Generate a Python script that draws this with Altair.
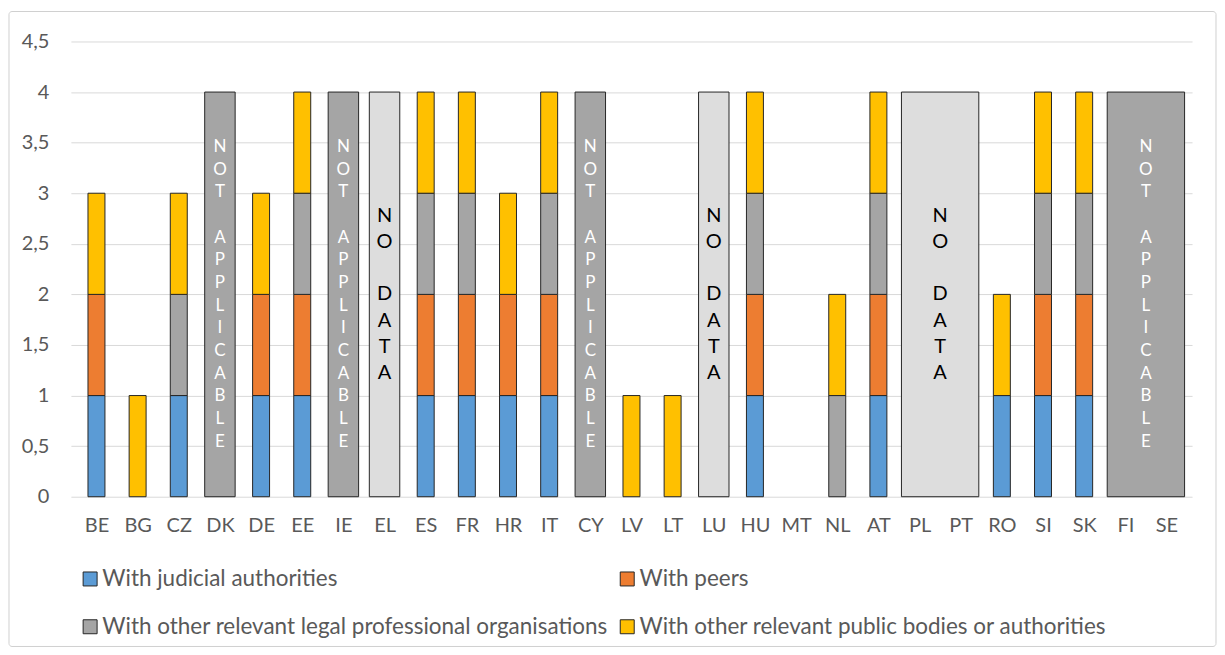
import json
import altair as alt
import pandas as pd

countries = ["BE", "BG", "CZ", "DK", "DE", "EE", "IE", "EL", "ES", "FR", "HR", "IT", "CY", "LV",
             "LT", "LU", "HU", "MT", "NL", "AT", "PL", "PT", "RO", "SI", "SK", "FI", "SE"]
judicial = [1, 0, 1, 0, 1, 1, 0, 0, 1, 1, 1, 1, 0, 0, 0, 0, 1, 0, 0, 1, 0, 0, 1, 1, 1, 0, 0]
peers = [1, 0, 0, 0, 1, 1, 0, 0, 1, 1, 1, 1, 0, 0, 0, 0, 1, 0, 0, 1, 0, 0, 0, 1, 1, 0, 0]
other_legal = [0, 0, 1, 0, 0, 1, 0, 0, 1, 1, 0, 1, 0, 0, 0, 0, 1, 0, 1, 1, 0, 0, 0, 1, 1, 0, 0]
public = [1, 1, 1, 0, 1, 1, 0, 0, 1, 1, 1, 1, 0, 1, 1, 0, 1, 0, 1, 1, 0, 0, 1, 1, 1, 0, 0]

series_names = ["With judicial authorities", "With peers",
                "With other relevant legal professional organisations",
                "With other relevant public bodies or authorities"]
series_colors = ["#5B9BD5", "#ED7D31", "#A5A5A5", "#FFC000"]

overlay_start = ["DK", "IE", "EL", "CY", "LU", "PL", "FI"]
overlay_end = ["DK", "IE", "EL", "CY", "LU", "PT", "SE"]
overlay_kind = ["NOT APPLICABLE", "NOT APPLICABLE", "NO DATA", "NOT APPLICABLE",
                "NO DATA", "NO DATA", "NOT APPLICABLE"]
overlay_value = [4, 4, 4, 4, 4, 4, 4]

y_ticks = [0, 0.5, 1, 1.5, 2, 2.5, 3, 3.5, 4, 4.5]

W, H = 1123, 456
Y_MAX = 4.5
FONT = "Lato"
GREY = "#595959"
LINE_PX = {"NOT APPLICABLE": 22.7, "NO DATA": 26.2}

# ---- tables ----
rows = []
for i, c in enumerate(countries):
    for k, vals in enumerate([judicial, peers, other_legal, public]):
        if vals[i] > 0:
            rows.append({"idx": i, "country": c, "series": series_names[k],
                         "order": k, "value": vals[i]})
bars_df = pd.DataFrame(rows)

orows, lrows = [], []
for s, e, kind, v in zip(overlay_start, overlay_end, overlay_kind, overlay_value):
    a, b = countries.index(s), countries.index(e)
    pad = 0.37 if a == b else 0.44
    orows.append({"x0": a - pad, "x1": b + pad, "top": v, "kind": kind})
    # one row per letter, words separated by an empty line, block centred at v/2
    lines = []
    for wi, word in enumerate(kind.split(" ")):
        if wi:
            lines.append(None)
        lines.extend(list(word))
    n = len(lines)
    step = LINE_PX[kind] * Y_MAX / H
    for li, ch in enumerate(lines):
        if ch is None:
            continue
        lrows.append({"mid": (a + b) / 2, "ly": v / 2 + ((n - 1) / 2 - li) * step,
                      "kind": kind, "ch": ch})
over_df = pd.DataFrame(orows)
letters_df = pd.DataFrame(lrows)

xscale = alt.Scale(domain=[-0.5, len(countries) - 0.5], nice=False, zero=False)
yscale = alt.Scale(domain=[0, Y_MAX], nice=False)

x_axis = alt.Axis(values=list(range(len(countries))), grid=False, domain=False, ticks=False,
                  labelExpr=json.dumps(countries) + "[datum.value]", title=None,
                  labelFontSize=20, labelColor=GREY, labelFont=FONT, labelPadding=19)
y_axis = alt.Axis(values=y_ticks, grid=True, gridColor="#D9D9D9", domain=False, ticks=False,
                  labelExpr="replace(format(datum.value, '~g'), '.', ',')", title=None,
                  labelFontSize=20, labelColor=GREY, labelFont=FONT, labelPadding=22)

bars = alt.Chart(bars_df).mark_bar(width=17, stroke="#262626", strokeWidth=1).encode(
    x=alt.X("idx:Q", scale=xscale, axis=x_axis),
    y=alt.Y("sum(value):Q", scale=yscale, axis=y_axis, stack="zero"),
    color=alt.Color("series:N", scale=alt.Scale(domain=series_names, range=series_colors),
                    legend=alt.Legend(title=None, orient="none", legendX=8, legendY=527,
                                      columns=2, direction="horizontal",
                                      symbolType="square", symbolSize=196,
                                      symbolStrokeColor="#262626", symbolStrokeWidth=1,
                                      labelFont=FONT, labelFontSize=22.5, labelColor=GREY,
                                      labelOffset=1, columnPadding=8, rowPadding=25,
                                      labelLimit=1000, padding=0)),
    order=alt.Order("order:Q"),
)

base_o = alt.Chart(over_df)
na_rect = base_o.transform_filter("datum.kind == 'NOT APPLICABLE'").mark_rect(
    fill="#A5A5A5", stroke="#262626", strokeWidth=1).encode(
    x=alt.X("x0:Q", scale=xscale), x2="x1:Q",
    y=alt.Y("top:Q", scale=yscale), y2=alt.datum(0))
nd_rect = base_o.transform_filter("datum.kind == 'NO DATA'").mark_rect(
    fill="#DDDDDD", stroke="#262626", strokeWidth=1).encode(
    x=alt.X("x0:Q", scale=xscale), x2="x1:Q",
    y=alt.Y("top:Q", scale=yscale), y2=alt.datum(0))

base_l = alt.Chart(letters_df)
na_text = base_l.transform_filter("datum.kind == 'NOT APPLICABLE'").mark_text(
    font=FONT, fontSize=17, color="white", align="center", baseline="middle").encode(
    x=alt.X("mid:Q", scale=xscale), y=alt.Y("ly:Q", scale=yscale), text="ch:N")
nd_text = base_l.transform_filter("datum.kind == 'NO DATA'").mark_text(
    font=FONT, fontSize=20, color="black", align="center", baseline="middle").encode(
    x=alt.X("mid:Q", scale=xscale), y=alt.Y("ly:Q", scale=yscale), text="ch:N")

frame = alt.Chart(pd.DataFrame({"f": [0]})).mark_rect(
    fill=None, stroke="#D0D0D0", strokeWidth=1, cornerRadius=3).encode(
    x=alt.value(-62), x2=alt.value(W + 24), y=alt.value(-30), y2=alt.value(H + 150))

chart = alt.layer(frame, bars, na_rect, nd_rect, na_text, nd_text).properties(
    width=W, height=H,
    padding={"left": 0, "top": 2, "right": 0, "bottom": 0},
    background="white",
).configure_view(stroke=None)

chart.save("out.html", embed_options={"renderer": "svg", "actions": False})
